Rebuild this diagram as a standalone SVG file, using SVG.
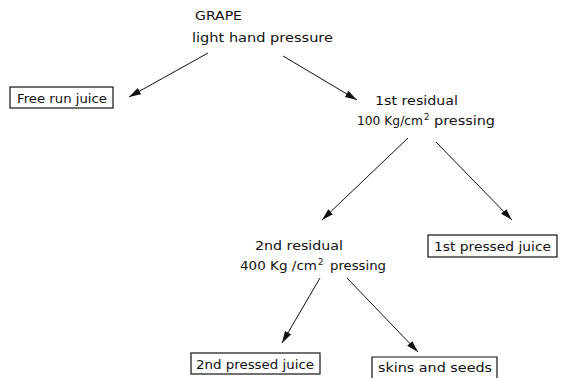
<svg xmlns="http://www.w3.org/2000/svg" width="564" height="378" viewBox="0 0 564 378">
<defs>
<marker id="ah" viewBox="0 0 12 8" refX="12" refY="4" markerWidth="12" markerHeight="8" markerUnits="userSpaceOnUse" orient="auto">
<path d="M0,0.5 L12,4 L0,7.5 Z" fill="#111"/>
</marker>
<style>
text{font-family:"DejaVu Sans","Liberation Sans",sans-serif;font-size:12px;fill:#111}
.sup{font-size:8.5px}
.box{fill:#fff;stroke:#111;stroke-width:1.2}
.arr{stroke:#111;stroke-width:1;fill:none;marker-end:url(#ah)}
</style>
</defs>
<rect width="564" height="378" fill="#fff"/>
<g id="grape">
<text x="195" y="20" textLength="47" lengthAdjust="spacingAndGlyphs">GRAPE</text>
<text x="192" y="42" textLength="141" lengthAdjust="spacingAndGlyphs">light hand pressure</text>
</g>
<g id="freerun">
<rect class="box" x="10" y="87" width="103" height="21"/>
<text x="17" y="103" textLength="90" lengthAdjust="spacingAndGlyphs">Free run juice</text>
</g>
<g id="res1">
<text x="375" y="105" textLength="83" lengthAdjust="spacingAndGlyphs">1st residual</text>
<text y="125"><tspan x="357" textLength="66" lengthAdjust="spacingAndGlyphs">100 Kg/cm</tspan><tspan class="sup" x="424" dy="-5">2</tspan><tspan x="434" dy="5" textLength="61" lengthAdjust="spacingAndGlyphs">pressing</tspan></text>
</g>
<g id="pressed1">
<rect class="box" x="428" y="235" width="129" height="22"/>
<text x="434" y="251" textLength="117" lengthAdjust="spacingAndGlyphs">1st pressed juice</text>
</g>
<g id="res2">
<text x="255" y="250" textLength="88" lengthAdjust="spacingAndGlyphs">2nd residual</text>
<text y="270"><tspan x="240" textLength="77" lengthAdjust="spacingAndGlyphs">400 Kg /cm</tspan><tspan class="sup" x="318" dy="-5">2</tspan><tspan x="330" dy="5" textLength="56" lengthAdjust="spacingAndGlyphs">pressing</tspan></text>
</g>
<g id="pressed2">
<rect class="box" x="191" y="353" width="129" height="21"/>
<text x="196" y="369" textLength="118" lengthAdjust="spacingAndGlyphs">2nd pressed juice</text>
</g>
<g id="skins">
<path class="box" d="M372,380 V357 H497 V380"/>
<text x="378" y="372" textLength="114" lengthAdjust="spacingAndGlyphs">skins and seeds</text>
</g>
<g id="connectors">
<line class="arr" x1="208" y1="53" x2="129" y2="97"/>
<line class="arr" x1="283" y1="56" x2="357" y2="100"/>
<line class="arr" x1="408" y1="138" x2="322" y2="220"/>
<line class="arr" x1="436" y1="142" x2="512" y2="220"/>
<line class="arr" x1="320" y1="278" x2="282" y2="343"/>
<line class="arr" x1="347" y1="278" x2="418" y2="352"/>
</g>
</svg>
